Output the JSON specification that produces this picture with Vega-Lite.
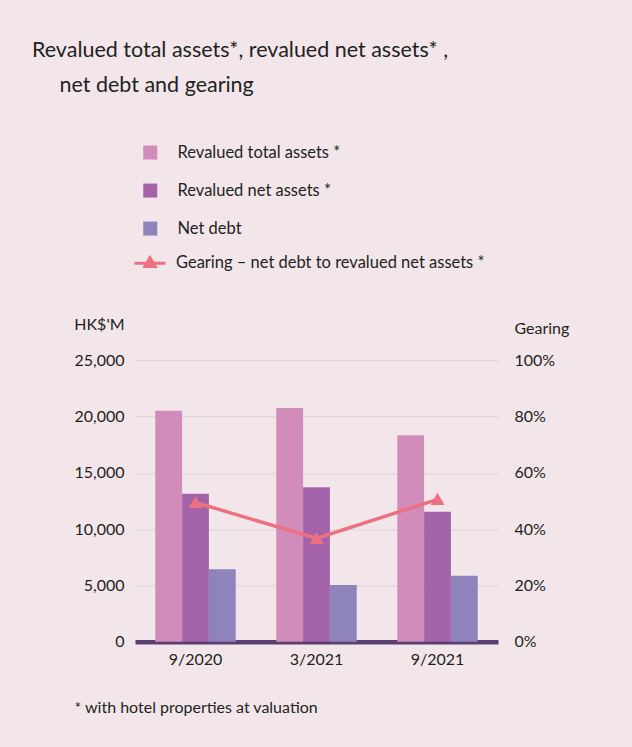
{
  "$schema": "https://vega.github.io/schema/vega-lite/v6.json",
  "width": 363,
  "height": 281.5,
  "autosize": {"type": "none"},
  "padding": {"left": 135, "top": 360.3, "right": 134, "bottom": 105},
  "background": "#f2e6eb",
  "config": {
    "font": "Lato",
    "view": {"stroke": null},
    "axis": {"labelColor": "#231f20", "titleColor": "#231f20", "labelFont": "Lato", "titleFont": "Lato"},
    "legend": {"labelColor": "#231f20", "labelFont": "Lato", "labelLimit": 400}
  },
  "title": {
    "text": ["Revalued total assets*, revalued net assets* ,", "\u200b\u00a0\u00a0\u00a0\u00a0\u00a0net debt and gearing"],
    "anchor": "start",
    "frame": "group",
    "font": "Lato",
    "fontSize": 21.5,
    "fontWeight": "normal",
    "color": "#231f20",
    "lineHeight": 35,
    "dx": -103,
    "dy": -44
  },
  "datasets": {
    "bars": [
      {"period": "9/2020", "series": "Revalued total assets *", "value": 20520},
      {"period": "9/2020", "series": "Revalued net assets *", "value": 13150},
      {"period": "9/2020", "series": "Net debt", "value": 6440},
      {"period": "3/2021", "series": "Revalued total assets *", "value": 20760},
      {"period": "3/2021", "series": "Revalued net assets *", "value": 13720},
      {"period": "3/2021", "series": "Net debt", "value": 5040},
      {"period": "9/2021", "series": "Revalued total assets *", "value": 18340},
      {"period": "9/2021", "series": "Revalued net assets *", "value": 11550},
      {"period": "9/2021", "series": "Net debt", "value": 5870}
    ],
    "gearing": [
      {"period": "9/2020", "series": "Gearing – net debt to revalued net assets *", "gearing": 0.495},
      {"period": "3/2021", "series": "Gearing – net debt to revalued net assets *", "gearing": 0.367},
      {"period": "9/2021", "series": "Gearing – net debt to revalued net assets *", "gearing": 0.506}
    ]
  },
  "encoding": {
    "x": {
      "field": "period",
      "type": "nominal",
      "sort": ["9/2020", "3/2021", "9/2021"],
      "scale": {"paddingInner": 0.335, "paddingOuter": 0.1675},
      "axis": {
        "title": "* with hotel properties at valuation",
        "titleFontSize": 16,
        "titleFontWeight": "normal",
        "titleAnchor": "start",
        "titleAlign": "left",
        "titleBaseline": "alphabetic",
        "titleX": -61,
        "titleY": 71,
        "labelAngle": 0,
        "labelFontSize": 16,
        "labelPadding": 10,
        "ticks": false,
        "domainColor": "#5b3f72",
        "domainWidth": 4.5,
        "grid": false
      }
    }
  },
  "layer": [
    {
      "data": {"name": "bars"},
      "mark": {"type": "bar"},
      "encoding": {
        "xOffset": {
          "field": "series",
          "type": "nominal",
          "sort": ["Revalued total assets *", "Revalued net assets *", "Net debt"],
          "scale": {"paddingInner": 0, "paddingOuter": 0}
        },
        "y": {
          "field": "value",
          "type": "quantitative",
          "scale": {"domain": [0, 25000], "nice": false},
          "axis": {
            "title": "HK$'M",
            "titleAngle": 0,
            "titleAlign": "right",
            "titleBaseline": "alphabetic",
            "titleX": -11,
            "titleY": -31,
            "titleFontSize": 16,
            "titleFontWeight": "normal",
            "values": [0, 5000, 10000, 15000, 20000, 25000],
            "format": ",.0f",
            "labelFontSize": 16,
            "labelPadding": 11,
            "ticks": false,
            "domain": false,
            "grid": true,
            "gridColor": "#dcd6da",
            "gridWidth": 1.2
          }
        },
        "color": {
          "field": "series",
          "type": "nominal",
          "sort": ["Revalued total assets *", "Revalued net assets *", "Net debt"],
          "scale": {
            "domain": ["Revalued total assets *", "Revalued net assets *", "Net debt"],
            "range": ["#d28cba", "#a463a8", "#8f83bc"]
          },
          "legend": {
            "title": null,
            "orient": "none",
            "legendX": 7,
            "legendY": -216,
            "symbolType": "square",
            "symbolSize": 196,
            "symbolStrokeWidth": 0,
            "labelFontSize": 16.5,
            "labelOffset": 19,
            "rowPadding": 21,
            "padding": 0
          }
        }
      }
    },
    {
      "data": {"name": "gearing"},
      "mark": {
        "type": "line",
        "strokeWidth": 3.5,
        "point": {"shape": "triangle-up", "size": 110, "filled": true, "color": "#ec7080"}
      },
      "encoding": {
        "y": {
          "field": "gearing",
          "type": "quantitative",
          "scale": {"domain": [0, 1], "nice": false},
          "axis": {
            "orient": "right",
            "title": "Gearing",
            "titleAngle": 0,
            "titleAlign": "left",
            "titleBaseline": "alphabetic",
            "titleX": 16,
            "titleY": -27,
            "titleFontSize": 16,
            "titleFontWeight": "normal",
            "values": [0, 0.2, 0.4, 0.6, 0.8, 1],
            "format": ".0%",
            "labelFontSize": 16,
            "labelPadding": 16,
            "ticks": false,
            "domain": false,
            "grid": false
          }
        },
        "stroke": {
          "field": "series",
          "type": "nominal",
          "scale": {"range": ["#ec7080"]},
          "legend": {
            "title": null,
            "orient": "none",
            "legendX": -2,
            "legendY": -114,
            "symbolType": "M-1,0H1M-0.33,0.2L0,-0.36L0.33,0.2Z",
            "symbolSize": 961,
            "symbolFillColor": "#ec7080",
            "symbolStrokeWidth": 3,
            "labelFontSize": 16.5,
            "labelOffset": 9,
            "padding": 0
          }
        }
      }
    }
  ],
  "resolve": {"scale": {"y": "independent"}}
}
